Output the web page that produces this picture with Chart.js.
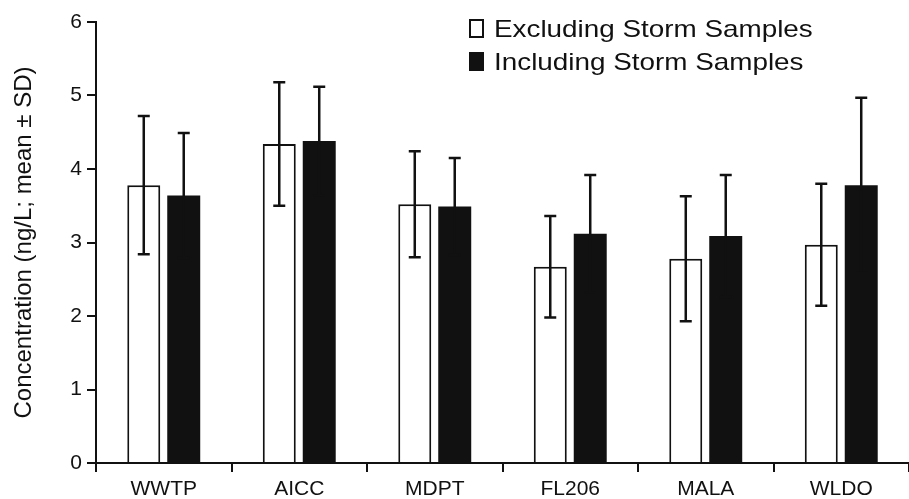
<!DOCTYPE html>
<html>
<head>
<meta charset="utf-8">
<script src="https://cdn.jsdelivr.net/npm/chart.js@4.4.0/dist/chart.umd.min.js"></script>
<style>
  html, body { margin: 0; padding: 0; background: #fff; }
  #wrap { width: 909px; height: 499px; }
</style>
</head>
<body>
<div id="wrap"><canvas id="concChart"></canvas></div>
<script>
// sites along the x axis
const sites = ['WWTP', 'AICC', 'MDPT', 'FL206', 'MALA', 'WLDO'];
const seriesNames = ['Excluding Storm Samples', 'Including Storm Samples'];
// means and standard deviations (ng/L)
const exclMean = [3.78, 4.34, 3.52, 2.67, 2.78, 2.97];
const exclSD = [0.94, 0.84, 0.72, 0.69, 0.85, 0.83];
const inclMean = [3.64, 4.38, 3.49, 3.12, 3.09, 3.78];
const inclSD = [0.85, 0.74, 0.66, 0.80, 0.83, 1.19];
const yTicks = [0, 1, 2, 3, 4, 5, 6];

const ink = '#111';
const fontFamily = "'Liberation Sans', Arial, sans-serif";

// whiskers for mean ± SD, drawn through the y scale
const errorBars = {
    id: 'errorBars',
    afterDatasetsDraw(chart) {
        const ctx = chart.ctx;
        const y = chart.scales.y;
        const sds = [exclSD, inclSD];
        ctx.save();
        ctx.strokeStyle = ink;
        ctx.lineWidth = 2.5;
        chart.data.datasets.forEach((ds, di) => {
            const meta = chart.getDatasetMeta(di);
            meta.data.forEach((bar, i) => {
                const m = ds.data[i], sd = sds[di][i];
                const top = y.getPixelForValue(m + sd);
                const bot = y.getPixelForValue(m - sd);
                const cap = 6;
                ctx.beginPath();
                ctx.moveTo(bar.x, top);
                ctx.lineTo(bar.x, bot);
                ctx.moveTo(bar.x - cap, top);
                ctx.lineTo(bar.x + cap, top);
                ctx.moveTo(bar.x - cap, bot);
                ctx.lineTo(bar.x + cap, bot);
                ctx.stroke();
            });
        });
        ctx.restore();
    }
};

// legend box in the top right, text a bit stretched like the original
const boxLegend = {
    id: 'boxLegend',
    afterDraw(chart) {
        const ctx = chart.ctx;
        const rows = [
            { label: seriesNames[0], fill: '#fff', y: 37 },
            { label: seriesNames[1], fill: ink, y: 70 }
        ];
        ctx.save();
        rows.forEach(r => {
            ctx.fillStyle = r.fill;
            ctx.fillRect(470, r.y - 17, 13, 17);
            ctx.strokeStyle = ink;
            ctx.lineWidth = 2;
            ctx.strokeRect(470, r.y - 17, 13, 17);
            ctx.save();
            ctx.translate(494, r.y);
            ctx.scale(1.16, 1);
            ctx.fillStyle = ink;
            ctx.font = '24px ' + fontFamily;
            ctx.textBaseline = 'alphabetic';
            ctx.fillText(r.label, 0, 0);
            ctx.restore();
        });
        ctx.restore();
    }
};

new Chart(document.getElementById('concChart'), {
    type: 'bar',
    data: {
        labels: sites,
        datasets: [{
            label: seriesNames[0],
            data: exclMean,
            backgroundColor: '#fff',
            borderColor: ink,
            borderWidth: 2
        }, {
            label: seriesNames[1],
            data: inclMean,
            backgroundColor: ink,
            borderColor: ink,
            borderWidth: 0
        }]
    },
    options: {
        responsive: true,
        maintainAspectRatio: false,
        animation: false,
        categoryPercentage: 0.59,
        barPercentage: 0.825,
        layout: { padding: { top: 22, right: 0, left: 0, bottom: 0 } },
        plugins: {
            legend: { display: false },
            tooltip: { enabled: false }
        },
        scales: {
            x: {
                afterFit: s => { s.height = 36; },
                border: { display: true, color: ink, width: 2 },
                grid: { drawOnChartArea: false, drawTicks: true, tickLength: 9, color: ink, lineWidth: 2, offset: true },
                ticks: { color: ink, padding: 5, font: { family: fontFamily, size: 21 } }
            },
            y: {
                min: 0,
                max: 6,
                afterFit: s => { s.width = 96; },
                afterBuildTicks: s => { s.ticks = yTicks.map(v => ({ value: v })); },
                border: { display: true, color: ink, width: 2 },
                grid: { drawOnChartArea: false, drawTicks: true, tickLength: 9, color: ink, lineWidth: 2 },
                ticks: { color: ink, padding: 5, font: { family: fontFamily, size: 21 } },
                title: {
                    display: true,
                    text: 'Concentration (ng/L; mean ± SD)',
                    color: ink,
                    padding: { top: 10, bottom: 0 },
                    font: { family: fontFamily, size: 24 }
                }
            }
        }
    },
    plugins: [errorBars, boxLegend]
});
</script>
</body>
</html>
